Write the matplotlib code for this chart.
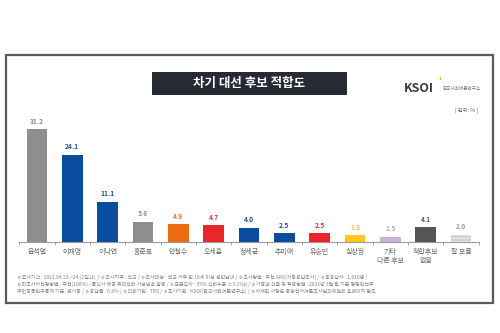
import numpy as np
import matplotlib
matplotlib.use("Agg")
import matplotlib.pyplot as plt
from matplotlib.patches import Rectangle

plt.rcParams['font.family'] = ['Noto Sans CJK KR', 'DejaVu Sans']

# Data
candidates = ["윤석열", "이재명", "이낙연", "홍준표", "안철수", "오세훈", "정세균",
              "추미애", "유승민", "심상정", "기타\n다른 후보", "적합후보\n없음", "잘 모름"]
values = [31.2, 24.1, 11.1, 5.6, 4.9, 4.7, 4.0, 2.5, 2.5, 1.8, 1.5, 4.1, 2.0]
bar_colors = ["#8e8e8e", "#0a4ca0", "#0a4ca0", "#8e8e8e", "#ec6a12", "#e8262c", "#0a4ca0",
              "#0a4ca0", "#e8262c", "#ffc81e", "#c9b3d6", "#555555", "#cfcfcf"]
label_colors = ["#8a8a8a", "#1f4f95", "#1f4f95", "#8a8a8a", "#e0722a", "#d9343a", "#1f4f95",
                "#1f4f95", "#d9343a", "#f0c030", "#b8a8c6", "#555555", "#9a9a9a"]

footer = [
    "ㅇ조사기간 : 2021.04.23.~24.(2일간)  / ㅇ조사지역 : 전국 / ㅇ조사대상 : 전국 거주 만 18세 이상 성인남녀 / ㅇ조사방법 : 무선 ARS(자동응답조사) / ㅇ총응답자 : 1,010명 /",
    "ㅇ피조사자선정방법 : 무선(100%) –통신사 제공 휴대전화 가상번호 활용 / ㅇ표본오차 : 95% 신뢰수준 ±3.1%p / ㅇ가중값 산출 및 적용방법 : 2021년 3월 말 기준 행정안전부",
    "주민등록인구통계 기준, 성가중 / ㅇ응답률 : 6.8% / ㅇ의뢰기관 : TBS / ㅇ조사기관 : KSOI(한국사회여론연구소) / ㅇ자세한 사항은 중앙선거여론조사심의위원회 홈페이지 참조",
]

W, H = 500, 333
fig = plt.figure(figsize=(5, 3.33), dpi=100)
fig.patch.set_facecolor("white")

# outer frame
fig.patches.append(Rectangle((6 / W, 1 - 303 / H), 487 / W, 248 / H, transform=fig.transFigure,
                             fill=False, edgecolor="#5a5a5a", linewidth=1.6))

# title box
fig.patches.append(Rectangle((152 / W, 1 - 95 / H), 195 / W, 23 / H, transform=fig.transFigure,
                             facecolor="#262b33", edgecolor="none"))
fig.text(249.5 / W, 1 - 83.5 / H, "차기 대선 후보 적합도", color="white", fontsize=9,
         ha="center", va="center", fontweight="bold")

# logo
fig.text(404 / W, 1 - 88 / H, "KSOI", color="#3a3a3a", fontsize=9, fontweight="bold",
         ha="left", va="center")
fig.text(438.5 / W, 1 - 82 / H, "'", color="#f0a020", fontsize=6, fontweight="bold",
         ha="left", va="center")
fig.text(443 / W, 1 - 88.5 / H, "한국사회여론연구소", color="#777777", fontsize=3.3,
         ha="left", va="center")
fig.text(478 / W, 1 - 110 / H, "[ 단위: % ]", color="#666666", fontsize=3.8,
         ha="right", va="center")

# bar axes
ax = fig.add_axes([19.3 / W, (H - 242) / H, 459.3 / W, 126.7 / H])
x = np.arange(len(values))
bars = ax.bar(x, values, width=0.58, color=bar_colors, edgecolor="none")
bars[-1].set_hatch("-----")
bars[-1].set_edgecolor("#e6e6e6")
bars[-1].set_linewidth(0)

for xi, v, c in zip(x, values, label_colors):
    ax.text(xi, v + 1.2, f"{v:.1f}", color=c, fontsize=4.8, fontweight="bold",
            ha="center", va="bottom")

ax.set_xlim(-0.5, len(values) - 0.5)
ax.set_ylim(0, 35)
for s in ["top", "right", "left"]:
    ax.spines[s].set_visible(False)
ax.spines["bottom"].set_color("#9a9a9a")
ax.spines["bottom"].set_linewidth(0.8)
ax.set_yticks([])
ax.set_xticks(x)
ax.set_xticklabels(candidates, fontsize=5, color="#6a6a6a", linespacing=1.3)
ax.tick_params(axis="x", length=0, pad=4)
ax.set_xticks(np.arange(-0.5, len(values), 1), minor=True)
ax.tick_params(axis="x", which="minor", length=2, color="#9a9a9a", width=0.6)
ax.patch.set_alpha(0)

# footer notes
for i, line in enumerate(footer):
    fig.text(17 / W, 1 - (277 + i * 7.3) / H, line, fontsize=3.6, color="#858585",
             ha="left", va="center")

fig.savefig("out.png", dpi=100, facecolor="white")
